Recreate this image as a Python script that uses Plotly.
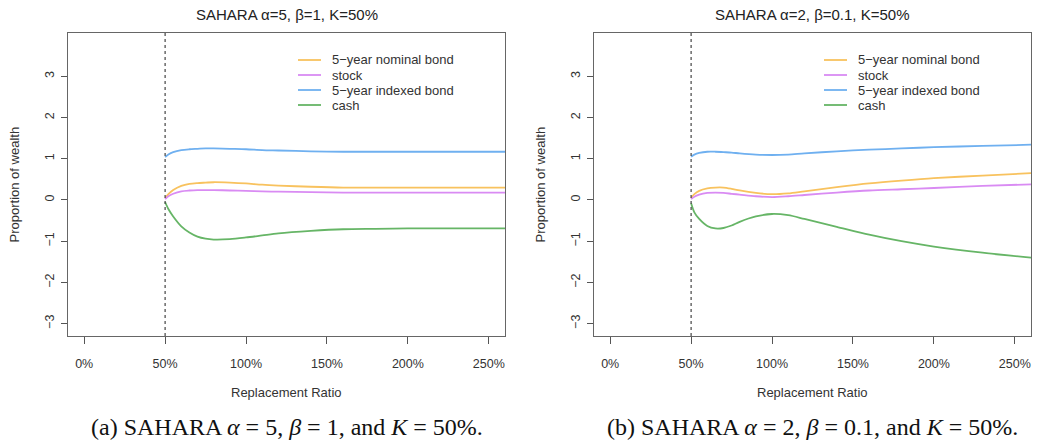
import plotly.graph_objects as go

# replacement ratio (%) grid
ratio = [50, 52, 55, 60, 65, 70, 75, 80, 90, 100, 110, 120, 140, 160, 180, 200, 230, 260]
K = 50

# (a) SAHARA alpha=5, beta=1
a_nominal = [0.05, 0.14, 0.24, 0.34, 0.39, 0.41, 0.42, 0.43, 0.42, 0.40, 0.37, 0.35, 0.32, 0.30, 0.30, 0.30, 0.30, 0.30]
a_stock = [0.02, 0.09, 0.15, 0.21, 0.23, 0.24, 0.24, 0.24, 0.23, 0.22, 0.21, 0.20, 0.19, 0.18, 0.18, 0.18, 0.18, 0.18]
a_indexed = [1.04, 1.10, 1.16, 1.21, 1.23, 1.24, 1.25, 1.25, 1.24, 1.23, 1.21, 1.20, 1.18, 1.17, 1.17, 1.17, 1.17, 1.17]
a_cash = [-0.05, -0.22, -0.40, -0.64, -0.79, -0.89, -0.94, -0.96, -0.95, -0.91, -0.86, -0.81, -0.75, -0.71, -0.70, -0.69, -0.69, -0.69]

# (b) SAHARA alpha=2, beta=0.1
b_nominal = [0.05, 0.14, 0.22, 0.28, 0.30, 0.30, 0.27, 0.23, 0.17, 0.14, 0.16, 0.21, 0.31, 0.40, 0.47, 0.53, 0.59, 0.65]
b_stock = [0.02, 0.08, 0.13, 0.17, 0.18, 0.17, 0.15, 0.13, 0.09, 0.07, 0.09, 0.12, 0.18, 0.23, 0.26, 0.29, 0.34, 0.38]
b_indexed = [1.05, 1.10, 1.14, 1.17, 1.17, 1.16, 1.15, 1.13, 1.10, 1.09, 1.10, 1.13, 1.18, 1.22, 1.25, 1.28, 1.31, 1.34]
b_cash = [-0.08, -0.30, -0.46, -0.63, -0.69, -0.68, -0.62, -0.53, -0.40, -0.34, -0.37, -0.46, -0.65, -0.84, -1.00, -1.13, -1.28, -1.40]

names = ["5\u2212year nominal bond", "stock", "5\u2212year indexed bond", "cash"]
colors = ["#F8C25E", "#D98BF3", "#6FB0F0", "#66B566"]

x_ticks = [0, 50, 100, 150, 200, 250]
x_labels = ["0%", "50%", "100%", "150%", "200%", "250%"]
y_ticks = [-3, -2, -1, 0, 1, 2, 3]
y_labels = ["\u22123", "\u22122", "\u22121", "0", "1", "2", "3"]

titles = ["SAHARA \u03b1=5, \u03b2=1, K=50%", "SAHARA \u03b1=2, \u03b2=0.1, K=50%"]
captions = ["(a) SAHARA <i>\u03b1</i> = 5, <i>\u03b2</i> = 1, and <i>K</i> = 50%.",
            "(b) SAHARA <i>\u03b1</i> = 2, <i>\u03b2</i> = 0.1, and <i>K</i> = 50%."]

W, H = 1040, 446


def xp(px):
    return px / W


def yp(py):
    return 1 - py / H


sans = "Liberation Sans, Arial, sans-serif"
fig = go.Figure()

panels = [
    ("x", "y", [a_nominal, a_stock, a_indexed, a_cash]),
    ("x2", "y2", [b_nominal, b_stock, b_indexed, b_cash]),
]
for xa, ya, series in panels:
    for name, col, vals in zip(names, colors, series):
        fig.add_trace(go.Scatter(x=ratio, y=vals, mode="lines", name=name,
                                 line=dict(color=col, width=1.8, shape="spline", smoothing=0.8),
                                 xaxis=xa, yaxis=ya, showlegend=False))

ax_font = dict(family=sans, size=12.5, color="#333")
xdoms = [[xp(68), xp(505)], [xp(594), xp(1031)]]
ydom = [yp(336), yp(33)]

for i, suf in enumerate(["", "2"]):
    fig.update_layout(**{
        "xaxis" + suf: dict(domain=xdoms[i], anchor="y" + suf, range=[-10, 260],
                            tickvals=x_ticks, ticktext=x_labels, ticks="outside", ticklen=7,
                            tickcolor="#555", showline=True, linecolor="#666", linewidth=1.3,
                            mirror=True, showgrid=False, zeroline=False,
                            ticklabelstandoff=9, tickfont=ax_font),
        "yaxis" + suf: dict(domain=ydom, anchor="x" + suf, range=[-3.3, 4.05],
                            tickvals=y_ticks, ticktext=y_labels, ticks="outside", ticklen=6,
                            tickcolor="#555", showline=True, linecolor="#666", linewidth=1.3,
                            mirror=True, showgrid=False, zeroline=False, tickangle=-90,
                            ticklabelstandoff=2, tickfont=ax_font),
    })
    fig.add_shape(type="line", xref="x" + suf, yref="y" + suf + " domain",
                  x0=K, x1=K, y0=0, y1=1, line=dict(color="#444", width=1.2, dash="dot"))
    cx = (xdoms[i][0] + xdoms[i][1]) / 2
    fig.add_annotation(text=titles[i], xref="paper", yref="paper", x=cx, y=yp(15),
                       xanchor="center", yanchor="middle", showarrow=False,
                       font=dict(family=sans, size=15, color="#222"))
    fig.add_annotation(text="Replacement Ratio", xref="paper", yref="paper", x=cx, y=yp(392),
                       xanchor="center", yanchor="middle", showarrow=False,
                       font=dict(family=sans, size=13, color="#333"))
    fig.add_annotation(text="Proportion of wealth", xref="paper", yref="paper",
                       x=xp(14 + 526 * i), y=(ydom[0] + ydom[1]) / 2, textangle=-90,
                       xanchor="center", yanchor="middle", showarrow=False,
                       font=dict(family=sans, size=13, color="#333"))
    fig.add_annotation(text=captions[i], xref="paper", yref="paper", x=cx, y=yp(427),
                       xanchor="center", yanchor="middle", showarrow=False,
                       font=dict(family="Liberation Serif, DejaVu Serif, serif", size=24, color="#111"))

    # legend drawn by hand to keep R's tight 15px row spacing
    off = 526 * i
    for j, (name, col) in enumerate(zip(names, colors)):
        ry = yp(60 + 15 * j)
        fig.add_shape(type="line", xref="paper", yref="paper", x0=xp(298 + off), x1=xp(321 + off),
                      y0=ry, y1=ry, line=dict(color=col, width=1.8))
        fig.add_annotation(text=name, xref="paper", yref="paper", x=xp(330 + off), y=ry,
                           xanchor="left", yanchor="middle", showarrow=False,
                           font=dict(family=sans, size=13, color="#333"))

fig.update_layout(
    width=W, height=H, margin=dict(l=0, r=0, t=0, b=0),
    paper_bgcolor="white", plot_bgcolor="white",
)

fig.write_html("out.html", config={"displayModeBar": False},
               post_script="document.body.style.margin='0';document.body.style.overflow='hidden';")
